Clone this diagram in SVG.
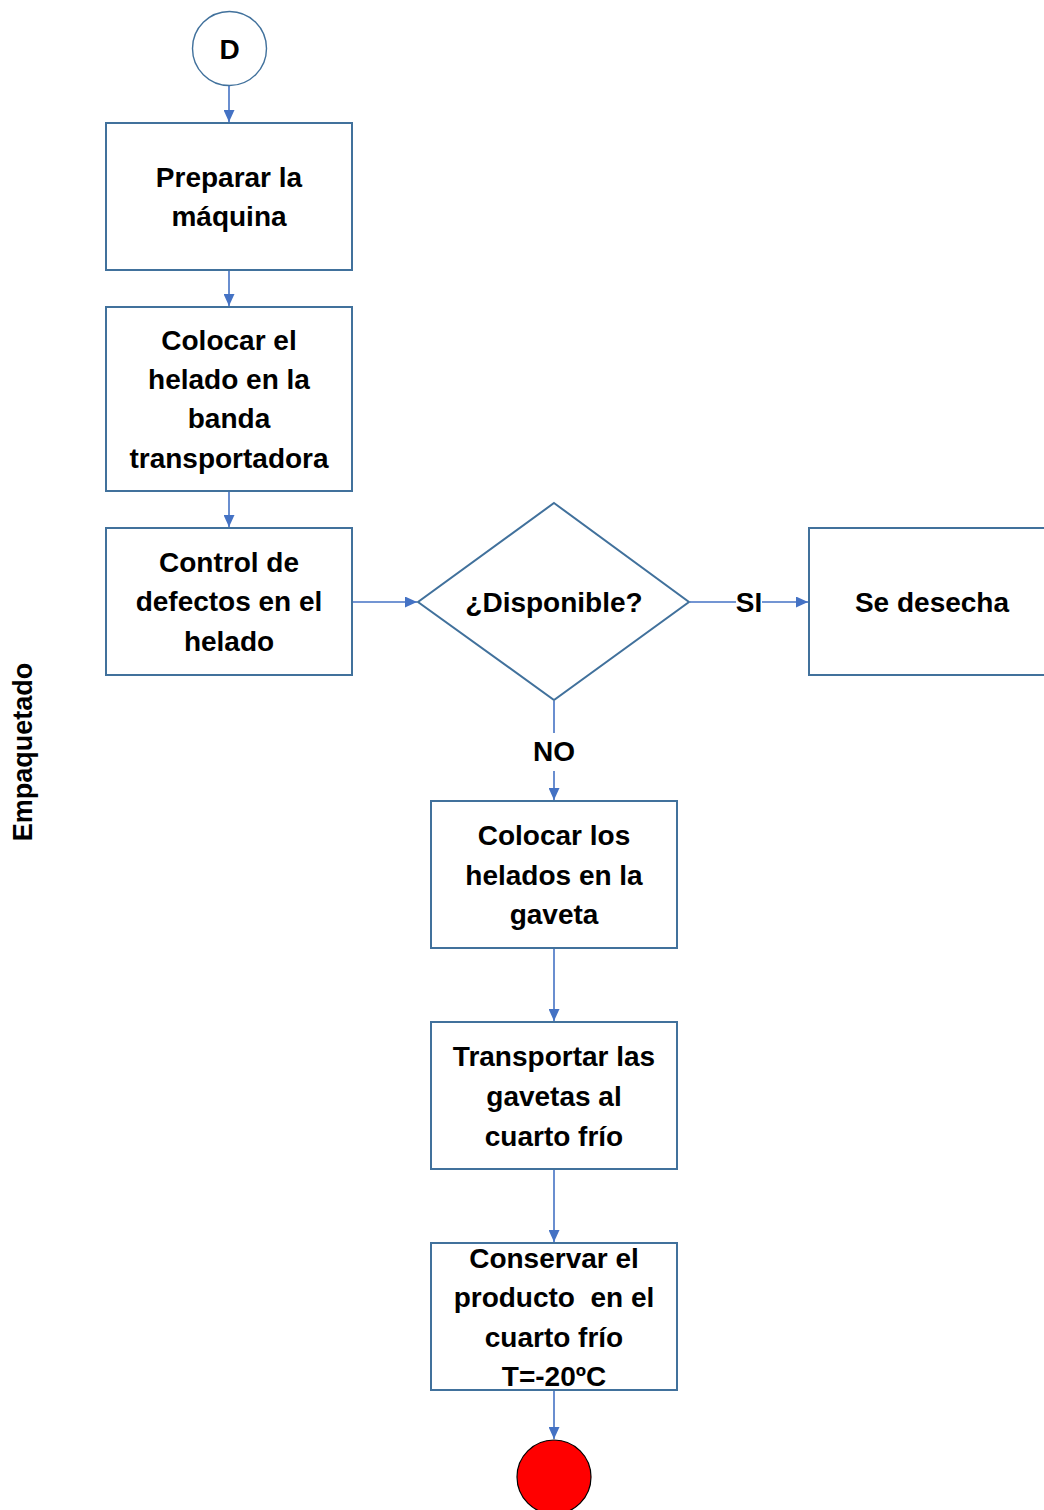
<svg xmlns="http://www.w3.org/2000/svg" width="1044" height="1510" viewBox="0 0 1044 1510">
<style>
.box{fill:#fff;stroke:#41719C;stroke-width:2}
.t{font-family:"Liberation Sans",Arial,sans-serif;font-weight:bold;font-size:28px;fill:#000;text-anchor:middle;white-space:pre}
.c{stroke:#4472C4;stroke-width:1.6;fill:none}
</style>
<defs>
<marker id="ah" viewBox="0 0 12 11" refX="12" refY="5.5" markerWidth="12" markerHeight="11" markerUnits="userSpaceOnUse" orient="auto">
<path d="M0,0 L12,5.5 L0,11 Z" fill="#4472C4"/>
</marker>
</defs>
<rect width="1044" height="1510" fill="#fff"/>
<g id="connectors">
<line class="c" x1="229" y1="86" x2="229" y2="122" marker-end="url(#ah)"/>
<line class="c" x1="229" y1="271" x2="229" y2="306" marker-end="url(#ah)"/>
<line class="c" x1="229" y1="492" x2="229" y2="527" marker-end="url(#ah)"/>
<line class="c" x1="353" y1="602" x2="417" y2="602" marker-end="url(#ah)"/>
<line class="c" x1="690" y1="602" x2="736" y2="602"/>
<line class="c" x1="762" y1="602" x2="808" y2="602" marker-end="url(#ah)"/>
<line class="c" x1="554" y1="701" x2="554" y2="733"/>
<line class="c" x1="554" y1="771" x2="554" y2="800" marker-end="url(#ah)"/>
<line class="c" x1="554" y1="949" x2="554" y2="1021" marker-end="url(#ah)"/>
<line class="c" x1="554" y1="1170" x2="554" y2="1242" marker-end="url(#ah)"/>
<line class="c" x1="554" y1="1391" x2="554" y2="1439" marker-end="url(#ah)"/>
<text class="t" x="749" y="612">SI</text>
<text class="t" x="554" y="761">NO</text>
</g>
<g id="start">
<circle cx="229.5" cy="48.5" r="37" fill="#fff" stroke="#41719C" stroke-width="1.4"/>
<text class="t" x="229.5" y="58.5">D</text>
</g>
<g id="n1">
<rect class="box" x="106" y="123" width="246" height="147"/>
<text class="t" x="229" y="187">Preparar la</text>
<text class="t" x="229" y="226">máquina</text>
</g>
<g id="n2">
<rect class="box" x="106" y="307" width="246" height="184"/>
<text class="t" x="229" y="350">Colocar el</text>
<text class="t" x="229" y="389">helado en la</text>
<text class="t" x="229" y="428">banda</text>
<text class="t" x="229" y="468">transportadora</text>
</g>
<g id="n3">
<rect class="box" x="106" y="528" width="246" height="147"/>
<text class="t" x="229" y="572">Control de</text>
<text class="t" x="229" y="611">defectos en el</text>
<text class="t" x="229" y="651">helado</text>
</g>
<g id="decision">
<polygon points="554,503 689,602 554,700 418,602" fill="#fff" stroke="#41719C" stroke-width="2"/>
<text class="t" x="554" y="612">¿Disponible?</text>
</g>
<g id="discard">
<rect class="box" x="809" y="528" width="240" height="147"/>
<text class="t" x="932" y="612">Se desecha</text>
</g>
<g id="n4">
<rect class="box" x="431" y="801" width="246" height="147"/>
<text class="t" x="554" y="845">Colocar los</text>
<text class="t" x="554" y="885">helados en la</text>
<text class="t" x="554" y="924">gaveta</text>
</g>
<g id="n5">
<rect class="box" x="431" y="1022" width="246" height="147"/>
<text class="t" x="554" y="1066">Transportar las</text>
<text class="t" x="554" y="1106">gavetas al</text>
<text class="t" x="554" y="1146">cuarto frío</text>
</g>
<g id="n6">
<rect class="box" x="431" y="1243" width="246" height="147"/>
<text class="t" x="554" y="1268">Conservar el</text>
<text class="t" x="554" y="1307">producto  en el</text>
<text class="t" x="554" y="1347">cuarto frío</text>
<text class="t" x="554" y="1386">T=-20ºC</text>
</g>
<g id="end">
<circle cx="554" cy="1477" r="37" fill="#FF0000" stroke="#000" stroke-width="1.2"/>
</g>
<g id="lane">
<text class="t" x="0" y="0" transform="translate(32,752) rotate(-90)" style="font-size:27px">Empaquetado</text>
</g>
</svg>
